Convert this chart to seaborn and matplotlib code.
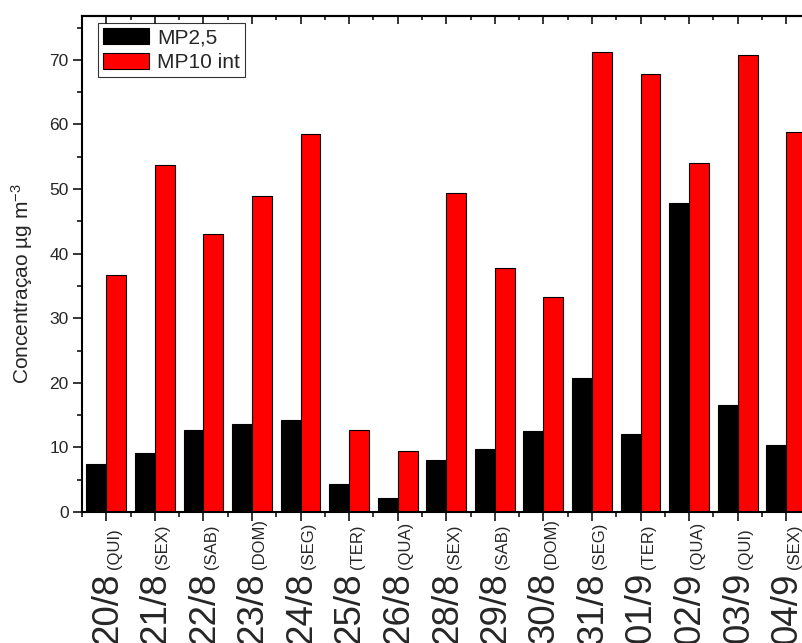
import matplotlib
matplotlib.use("Agg")
import matplotlib.pyplot as plt
import seaborn as sns
import pandas as pd
from matplotlib.ticker import MultipleLocator

# ---- data ----
dates = ["20/8", "21/8", "22/8", "23/8", "24/8", "25/8", "26/8", "28/8",
         "29/8", "30/8", "31/8", "01/9", "02/9", "03/9", "04/9"]
weekdays = ["QUI", "SEX", "SAB", "DOM", "SEG", "TER", "QUA", "SEX",
            "SAB", "DOM", "SEG", "TER", "QUA", "QUI", "SEX"]
mp25 = [7.4, 9.1, 12.7, 13.6, 14.3, 4.3, 2.1, 8.0, 9.7, 12.5, 20.7, 12.1, 47.9, 16.6, 10.4]
mp10 = [36.7, 53.7, 43.1, 48.9, 58.5, 12.7, 9.4, 49.4, 37.8, 33.3, 71.2, 67.8, 54.1, 70.7, 58.8]
series_names = ["MP2,5", "MP10 int"]
series_colors = ["#000000", "#ff0000"]

df = pd.DataFrame({
    "date": dates * 2,
    "value": mp25 + mp10,
    "serie": [series_names[0]] * len(dates) + [series_names[1]] * len(dates),
})

sns.set_theme(style="white")
plt.rcParams["font.family"] = ["Liberation Sans", "DejaVu Sans"]
plt.rcParams["mathtext.fontset"] = "custom"
plt.rcParams["mathtext.rm"] = "Liberation Sans"
plt.rcParams["mathtext.it"] = "Liberation Sans:italic"
plt.rcParams["mathtext.bf"] = "Liberation Sans:bold"

W, H = 803, 643
fig = plt.figure(figsize=(W / 100, H / 100), dpi=100)
ax_left, ax_right, ax_top, ax_bottom = 82, 810.5, 16, 512
ax_w, ax_h = ax_right - ax_left, ax_bottom - ax_top
ax = fig.add_axes([ax_left / W, (H - ax_bottom) / H, ax_w / W, ax_h / H])

sns.barplot(data=df, x="date", y="value", hue="serie", order=dates,
            hue_order=series_names, palette=series_colors, width=0.82,
            edgecolor="black", linewidth=0.8, saturation=1, ax=ax)

ax.set_xlim(-0.5, len(dates) - 0.5)
ax.set_ylim(0, 76.8)
ax.yaxis.set_major_locator(MultipleLocator(10))
ax.yaxis.set_minor_locator(MultipleLocator(5))
ax.set_xticks(range(len(dates)))
ax.set_xticklabels([])
ax.xaxis.set_minor_locator(MultipleLocator(1, offset=0.5))
ax.set_xlabel("")
ax.set_ylabel("Concentraçao µg m$^{-3}$", fontsize=15)
ax.yaxis.set_label_coords((35 - ax_left) / ax_w, (ax_bottom - 284) / ax_h)

for sp in ax.spines.values():
    sp.set_linewidth(1.5)
    sp.set_color("black")

ax.tick_params(axis="both", which="major", direction="out", length=6.5, width=1.1,
               color="black", labelsize=12.5, pad=3, bottom=True, left=True)
ax.tick_params(axis="both", which="minor", direction="out", length=3.6, width=1.1,
               color="black", bottom=True, left=True)

sec = ax.secondary_xaxis("top")
sec.set_xticks(range(len(dates)))
sec.set_xticklabels([])
sec.xaxis.set_minor_locator(MultipleLocator(1, offset=0.5))
sec.tick_params(which="major", direction="in", length=6, width=1.1, color="black")
sec.tick_params(which="minor", direction="in", length=3, width=1.1, color="black")
sec.spines["top"].set_linewidth(1.5)

# custom two-size tick labels (date large, weekday small, rotated)
for i, (d, wd) in enumerate(zip(dates, weekdays)):
    ax.annotate(d, xy=(i, 0), xycoords=("data", "axes fraction"),
                xytext=(10.5, -60), textcoords="offset pixels", rotation=90,
                rotation_mode="anchor", ha="right", va="baseline",
                fontsize=26.5, annotation_clip=False)
    ax.annotate(f"({wd})", xy=(i, 0), xycoords=("data", "axes fraction"),
                xytext=(12.5, -57), textcoords="offset pixels", rotation=90,
                rotation_mode="anchor", ha="left", va="baseline",
                fontsize=12, annotation_clip=False)

handles, labels = ax.get_legend_handles_labels()
leg = ax.legend(handles, labels, loc="upper left",
                bbox_to_anchor=(16 / ax_w, 1 - 7 / ax_h),
                fontsize=15, frameon=True, fancybox=False, edgecolor="black",
                handlelength=2.2, handleheight=0.8, handletextpad=0.4,
                borderpad=0.25, labelspacing=0.25, borderaxespad=0, title=None)
leg.get_frame().set_linewidth(0.8)

fig.savefig("out.png", dpi=100)
